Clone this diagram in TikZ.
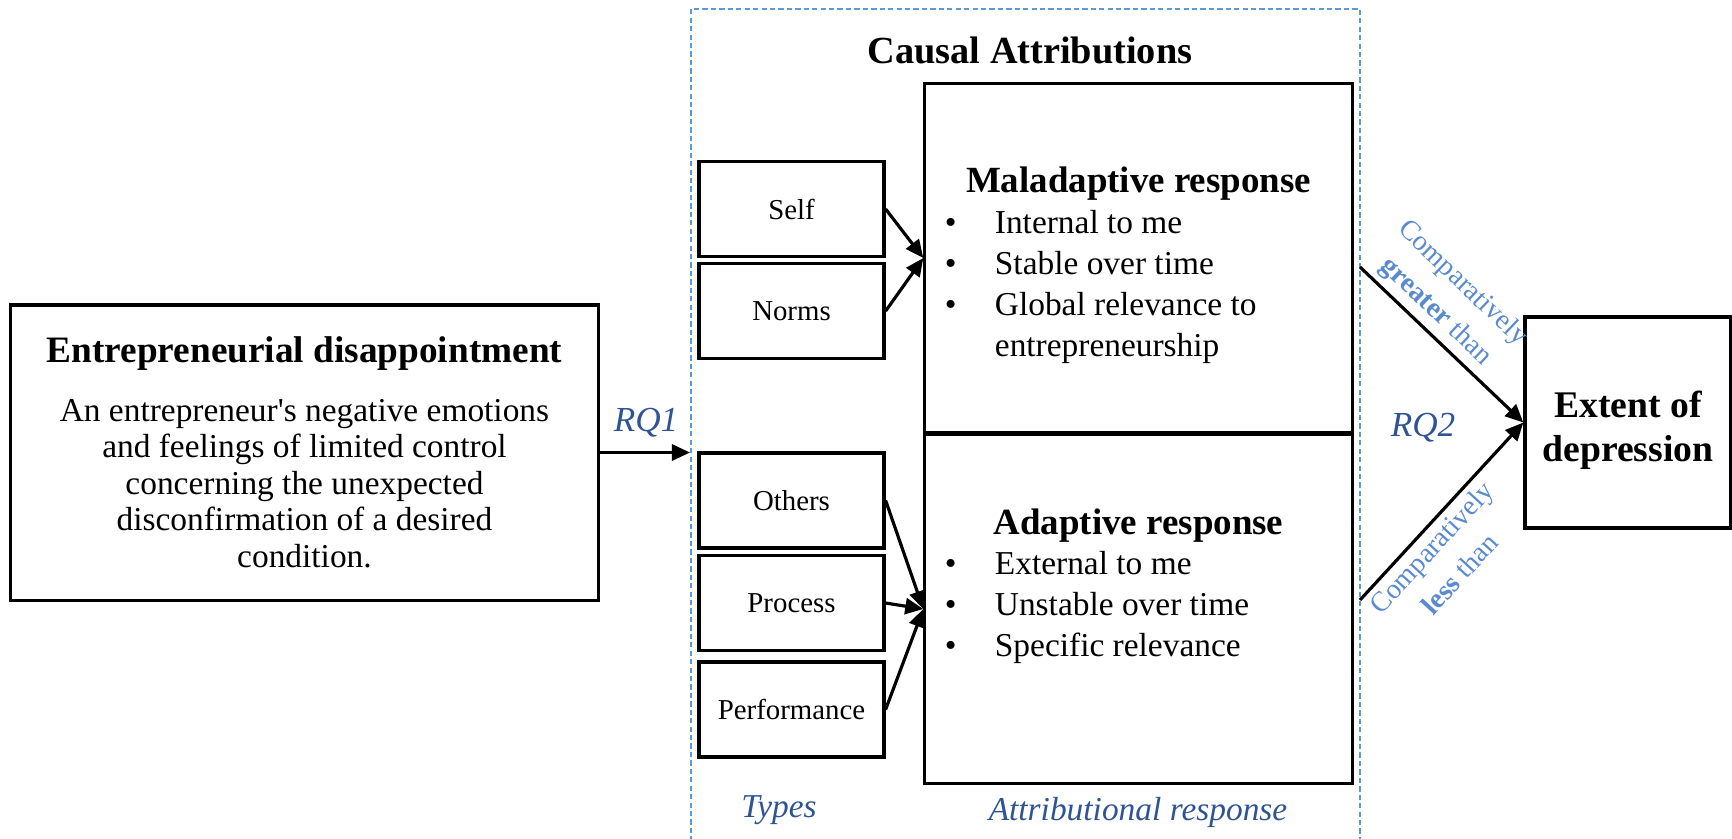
\documentclass[tikz,border=0pt]{standalone}
\usepackage{fontspec}
\setmainfont{Liberation Serif}
\usetikzlibrary{arrows.meta}
\definecolor{rqBlue}{HTML}{2F5496}
\definecolor{cmpBlue}{HTML}{5A8AD0}
\definecolor{dashBlue}{HTML}{5B9BD5}
\newcommand{\bul}{\makebox[0.5cm][l]{\textbullet}}
\tikzset{
  plainBox/.style = {draw, line width=0.9pt, inner sep=0pt},
  typeBox/.style = {plainBox, minimum width=1.85cm, minimum height=0.95cm,
                    font=\fontsize{8.2}{10}\selectfont},
  respBox/.style = {plainBox, minimum width=4.27cm, minimum height=3.48cm,
                    align=left, font=\fontsize{9.5}{11.6}\selectfont},
  arr/.style = {line width=0.9pt, -{Triangle[length=1.8mm,width=1.6mm]}},
  rqLabel/.style = {text=rqBlue, font=\fontsize{10}{12}\selectfont\itshape},
  cmpLabel/.style = {text=cmpBlue, inner sep=1.5pt, align=center, sloped,
                     font=\fontsize{8}{11}\selectfont},
  dashFrame/.style = {draw=dashBlue, line width=0.45pt, dash pattern=on 1.5pt off 0.9pt}
}

\begin{document}
\begin{tikzpicture}[x=0.01cm,y=-0.01cm]
    \useasboundingbox (0,0) rectangle (1732,838);
    % Dashed frame round the causal attributions
    \draw[dashFrame] (691,850) |- (1360,9) -- (1360,850);
    \node[font=\fontsize{10.9}{12}\selectfont\bfseries] (causal) at (1030,50) {Causal Attributions};
    % Disappointment box on the left
    \node[plainBox, minimum width=5.87cm, minimum height=2.95cm, align=center,
          font=\fontsize{9.5}{10.4}\selectfont] (disap) at (304.5,452.5)
      {{\fontsize{10.6}{12}\selectfont\bfseries Entrepreneurial disappointment}\\[6.2pt]
       An entrepreneur\textquotesingle s negative emotions\\
       and feelings of limited control\\
       concerning the unexpected\\
       disconfirmation of a desired\\
       condition.};
    % Types of attribution
    \node[typeBox] (selfBox) at (791.5,209) {Self};
    \node[typeBox] (normsBox) at (791.5,311) {Norms};
    \node[typeBox] (othersBox) at (791.5,500.5) {Others};
    \node[typeBox] (processBox) at (791.5,603) {Process};
    \node[typeBox] (perfBox) at (791.5,709.5) {Performance};
    % Attributional responses
    \node[respBox] (malBox) at (1138.5,258)
      {\rule{0pt}{11.4pt}\makebox[3.87cm]{\fontsize{10.5}{12}\selectfont\bfseries Maladaptive response}\\
       \bul Internal to me\\
       \bul Stable over time\\
       \bul Global relevance to\\
       \hspace*{0.5cm}entrepreneurship};
    \node[respBox] (adpBox) at (1138.5,609)
      {\makebox[3.87cm]{\fontsize{10.5}{12}\selectfont\bfseries Adaptive response}\\
       \bul External to me\\
       \bul Unstable over time\\
       \bul Specific relevance\\
       \strut};
    % Outcome box
    \node[plainBox, minimum width=2.06cm, minimum height=2.11cm, align=center,
          font=\fontsize{10.7}{12.5}\selectfont\bfseries] (extentBox) at (1628,422.5)
      {\rule{0pt}{11.8pt}Extent of\\depression};
    % Labels
    \node[rqLabel] (rqOne) at (646,423) {RQ1};
    \node[rqLabel] (rqTwo) at (1423,428) {RQ2};
    \node[rqLabel, font=\fontsize{9.5}{11}\selectfont\itshape] (typesLbl) at (779,810) {Types};
    \node[rqLabel, font=\fontsize{9.5}{11}\selectfont\itshape] (respLbl) at (1138,812) {Attributional response};
    % Arrow ends on the dashed frame
    \coordinate (rqOneEnd) at (690,452.5);
    \coordinate (grStart) at (1360,267);
    \coordinate (lsStart) at (1360,600);
    % Arrows
    \draw[arr] (disap.east) -- (rqOneEnd);
    \foreach \tb in {selfBox,normsBox}
    \draw[arr] (\tb.east) -- (malBox.west);
    \foreach \tb in {othersBox,processBox,perfBox}
    \draw[arr] (\tb.east) -- (adpBox.west);
    \draw[arr] (grStart) -- node[cmpLabel, above, pos=0.38] {Comparatively\\\textbf{greater} than} (extentBox.west);
    \draw[arr] (lsStart) -- node[cmpLabel, below, pos=0.36] {Comparatively\\\textbf{less} than} (extentBox.west);
\end{tikzpicture}
\end{document}
